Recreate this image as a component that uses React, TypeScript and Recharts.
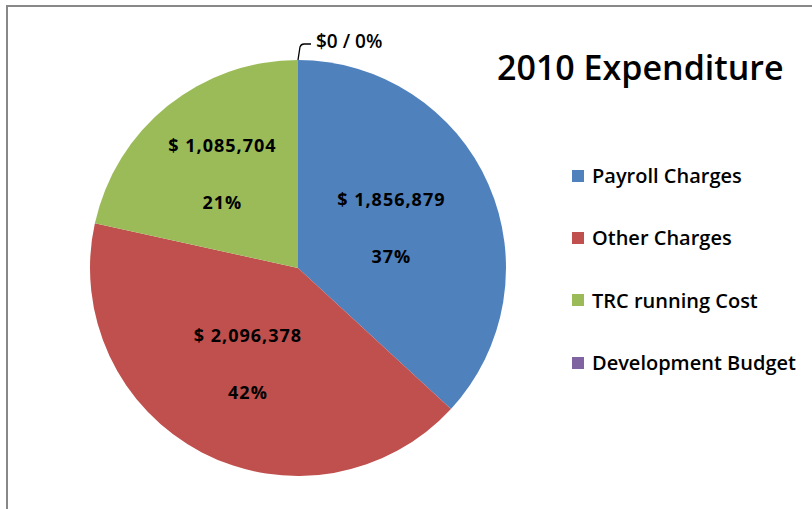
import React from "react";
import { PieChart, Pie, Cell, Legend } from "recharts";

const categories = ["Payroll Charges", "Other Charges", "TRC running Cost", "Development Budget"];
const amounts = [1856879, 2096378, 1085704, 0];
const amountLabels = ["$ 1,856,879", "$ 2,096,378", "$ 1,085,704", "$0"];
const percentLabels = ["37%", "42%", "21%", "0%"];
const title = "2010 Expenditure";

const COLORS = ["#4F81BD", "#C0504D", "#9BBB59", "#8064A2"];
const LABEL_R = [0.49, 0.52, 0.58, 1];
const FONT = "'Open Sans', Lato, sans-serif";

const data = categories.map((name, i) => ({
  name,
  value: amounts[i],
  amount: amountLabels[i],
  pct: percentLabels[i],
}));

const RAD = Math.PI / 180;

const renderLabel = (props: any) => {
  const { cx, cy, midAngle, outerRadius, index } = props;
  const d = data[index];
  if (d.value === 0) {
    const x0 = cx + outerRadius * Math.cos(-midAngle * RAD);
    const y0 = cy + outerRadius * Math.sin(-midAngle * RAD);
    return (
      <g>
        <path
          d={`M${x0},${y0} L${x0 + 2},${y0 - 13} Q${x0 + 3},${y0 - 16} ${x0 + 6},${y0 - 16} L${x0 + 13},${y0 - 16}`}
          stroke="#000"
          strokeWidth={1.3}
          fill="none"
        />
        <text
          x={x0 + 18}
          y={y0 - 19}
          fill="#000"
          fontSize={19}
          fontFamily={FONT}
          fontWeight={600}
          dominantBaseline="central"
        >
          {`${d.amount} / ${d.pct}`}
        </text>
      </g>
    );
  }
  const r = outerRadius * LABEL_R[index];
  const x = cx + r * Math.cos(-midAngle * RAD);
  const y = cy + r * Math.sin(-midAngle * RAD);
  return (
    <g>
      <text x={x} y={y - 28.5} textAnchor="middle" dominantBaseline="central" fill="#000" fontSize={18} letterSpacing={1} fontFamily={FONT} fontWeight={700}>
        {d.amount}
      </text>
      <text x={x} y={y + 28.5} textAnchor="middle" dominantBaseline="central" fill="#000" fontSize={18} letterSpacing={1} fontFamily={FONT} fontWeight={700}>
        {d.pct}
      </text>
    </g>
  );
};

const renderLegend = () => (
  <div style={{ fontFamily: FONT }}>
    {data.map((d, i) => (
      <div key={d.name} style={{ display: "flex", alignItems: "center", height: 62.3 }}>
        <div style={{ width: 12, height: 12, background: COLORS[i], marginRight: 8 }} />
        <span style={{ fontSize: 20, fontWeight: 600, color: "#000", whiteSpace: "nowrap" }}>{d.name}</span>
      </div>
    ))}
  </div>
);

export default function App() {
  return (
    <div style={{ position: "relative", width: 812, height: 509, margin: -8, overflow: "hidden", background: "#fff" }}>
      <div
        style={{
          position: "absolute",
          left: 497,
          top: 44,
          fontFamily: FONT,
          fontSize: 34,
          fontWeight: 600,
          color: "#000",
          whiteSpace: "nowrap",
        }}
      >
        {title}
      </div>
      <div style={{ position: "absolute", left: 0, top: 0 }}>
        <PieChart width={812} height={509} margin={{ top: 0, right: 0, bottom: 0, left: 0 }}>
          <Pie
            data={data}
            dataKey="value"
            nameKey="name"
            cx={298}
            cy={268}
            outerRadius={208}
            startAngle={90}
            endAngle={-270}
            stroke="none"
            label={renderLabel}
            labelLine={false}
            isAnimationActive={false}
          >
            {data.map((d, i) => (
              <Cell key={d.name} fill={COLORS[i]} />
            ))}
          </Pie>
          <Legend
            layout="vertical"
            content={renderLegend}
            wrapperStyle={{ position: "absolute", left: 572, top: 144.5, width: 240 }}
          />
        </PieChart>
      </div>
      <svg
        width={812}
        height={509}
        style={{ position: "fixed", left: 0, top: 0, pointerEvents: "none" }}
      >
        <path d="M7,509 L7,6 L812,6" stroke="#888888" strokeWidth={2} fill="none" />
      </svg>
    </div>
  );
}
